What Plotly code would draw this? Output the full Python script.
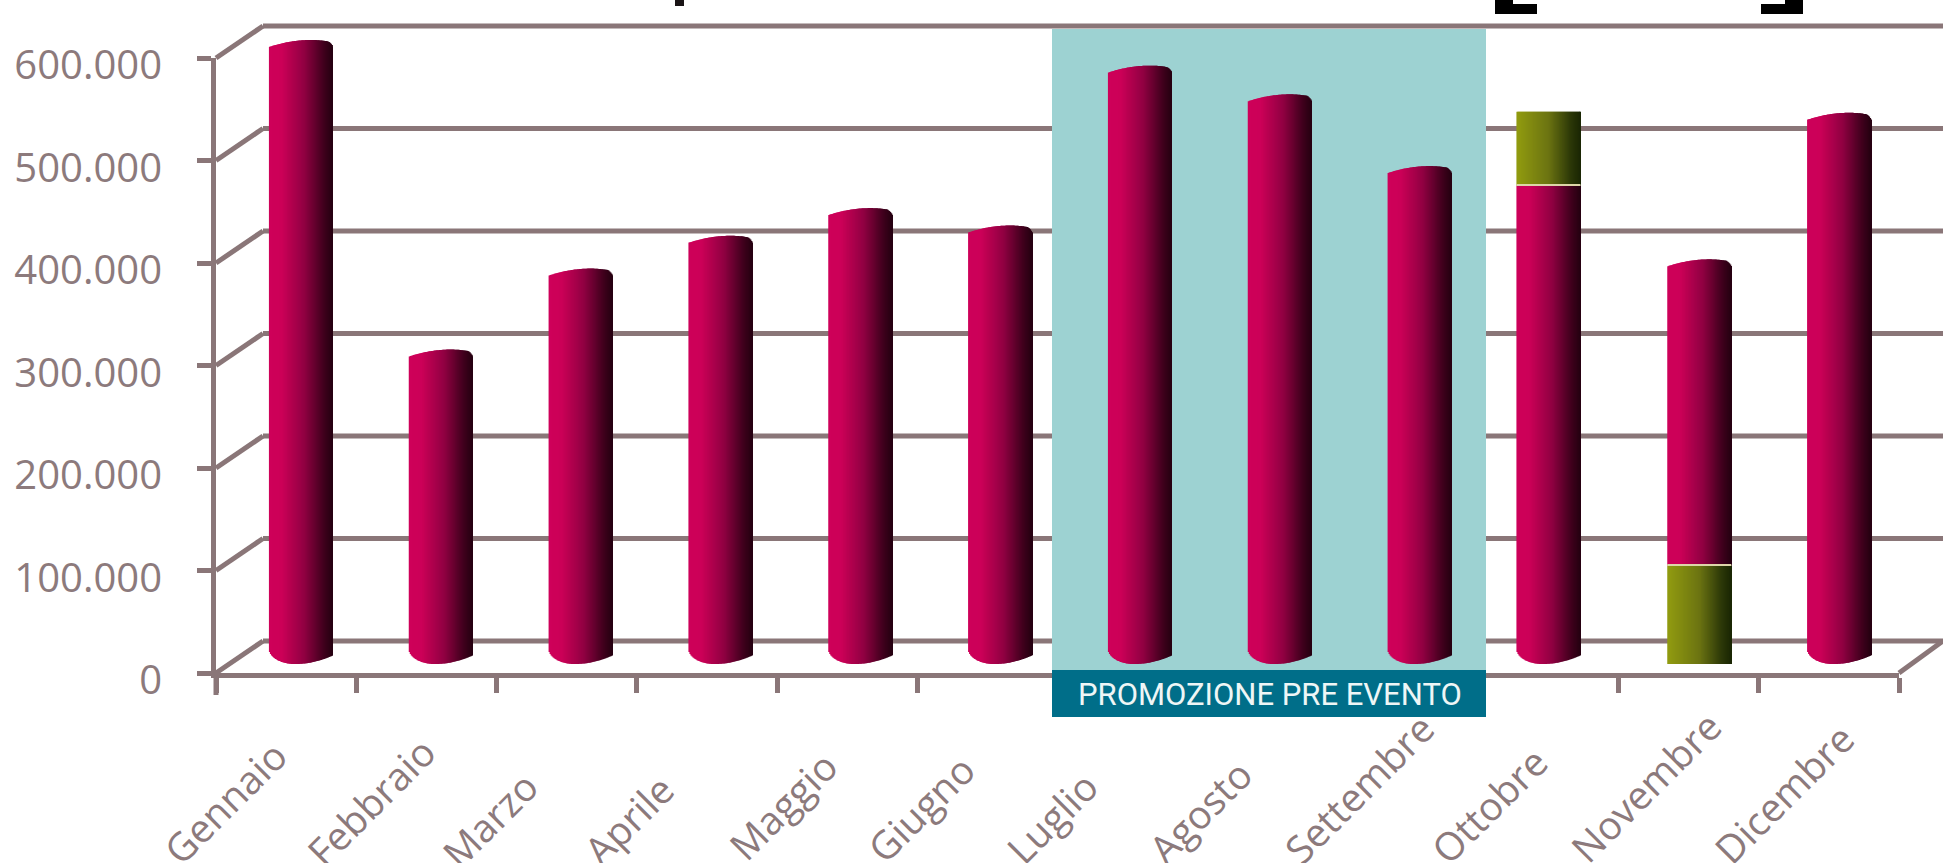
import plotly.graph_objects as go

# ---- data ----
months = ["Gennaio", "Febbraio", "Marzo", "Aprile", "Maggio", "Giugno",
          "Luglio", "Agosto", "Settembre", "Ottobre", "Novembre", "Dicembre"]
crimson_bottom = [0, 0, 0, 0, 0, 0, 0, 0, 0, 0, 87000, 0]
crimson_top = [600000, 298000, 377000, 409000, 436000, 419000,
               575000, 547000, 477000, 458000, 386000, 529000]
olive_months = ["Ottobre", "Novembre"]
olive_bottom = [458000, 0]
olive_top = [530000, 87000]
y_ticks = [0, 100000, 200000, 300000, 400000, 500000, 600000]
y_tick_labels = ["0", "100.000", "200.000", "300.000", "400.000", "500.000", "600.000"]
promo_label = "PROMOZIONE PRE EVENTO"

# ---- layout constants (pixels of the 1943x863 page) ----
W, H = 1943, 863
AX_L, AX_R, AX_B, AX_T = 216, 1899, 673, 58
DX, DY = 47, 32                 # depth of the pseudo-3D box
BAR_L, BAR_SPAN = 231, 1678     # horizontal extent of the plane the bars stand on
BAR_DY = 18
PX_PER_UNIT = (AX_B - AX_T) / 600000
AXIS_COLOR = "#8a7678"
TEXT_COLOR = "#8c7a7c"
FONT = "Open Sans"
N = 64
BAR_W = 64 / (BAR_SPAN / 12)
Y2_LOW = -16000
OCT_NUDGE = -11 / (BAR_SPAN / 12)   # the October tube sits left of its slot


def px_x(v):
    return v / W


def px_y(v):
    return 1 - v / H


def lerp_hex(stops, t):
    for (t0, c0), (t1, c1) in zip(stops, stops[1:]):
        if t <= t1:
            f = (t - t0) / (t1 - t0)
            rgb = [round(c0[i] + (c1[i] - c0[i]) * f) for i in range(3)]
            return f"rgb({rgb[0]},{rgb[1]},{rgb[2]})"
    return f"rgb{stops[-1][1]}"


CRIMSON = [(0, (206, 0, 90)), (0.2, (204, 0, 88)), (0.55, (145, 0, 66)), (0.85, (66, 0, 30)), (1, (36, 0, 16))]
OLIVE = [(0, (146, 156, 16)), (0.5, (108, 116, 18)), (0.85, (44, 56, 8)), (1, (26, 38, 4))]


def top_drop(t):
    """Pixels the top edge of the tube falls below its peak."""
    if t < 0.65:
        return 7 * ((0.65 - t) / 0.65) ** 2
    return 2.5 * ((t - 0.65) / 0.35) ** 2 + 5 * (max(0, t - 0.9) / 0.1) ** 2


def bottom_sag(t):
    """Pixels the bottom edge of the tube hangs below the floor plane."""
    if t < 0.4:
        return -6 + 15 * (1 - ((0.4 - t) / 0.4) ** 2) ** 0.5
    return 9 * (1 - ((t - 0.4) / 0.6) ** 2)


def nudged(names, value):
    return [value + (OCT_NUDGE if m == "Ottobre" else 0) for m in names]


def strip_geometry(k, names):
    last = k == N - 1
    return dict(width=BAR_W / N * (1 if last else 2),
                offset=nudged(names, -BAR_W / 2 + k * BAR_W / N))


fig = go.Figure()

# invisible trace that gives the front axes their categories
fig.add_trace(go.Scatter(x=months, y=crimson_top, mode="none", xaxis="x", yaxis="y",
                         showlegend=False, hoverinfo="skip"))

for k in range(N):
    t = (k + 0.5) / N
    bases, heights = [], []
    for m, lo, hi in zip(months, crimson_bottom, crimson_top):
        b = lo if lo else -bottom_sag(t) / PX_PER_UNIT
        capped = m in olive_months and lo == 0
        h = hi if capped else hi - top_drop(t) / PX_PER_UNIT
        bases.append(b)
        heights.append(h - b)
    fig.add_trace(go.Bar(x=months, y=heights, base=bases, xaxis="x2", yaxis="y2",
                         marker=dict(color=lerp_hex(CRIMSON, t), line=dict(width=0)),
                         showlegend=False, hoverinfo="skip", **strip_geometry(k, months)))

for k in range(N):
    t = (k + 0.5) / N
    bases, heights = [], []
    for lo, hi in zip(olive_bottom, olive_top):
        b = lo if lo else -9 / PX_PER_UNIT
        bases.append(b)
        heights.append(hi - b)
    fig.add_trace(go.Bar(x=olive_months, y=heights, base=bases, xaxis="x2", yaxis="y2",
                         marker=dict(color=lerp_hex(OLIVE, t), line=dict(width=0)),
                         showlegend=False, hoverinfo="skip", **strip_geometry(k, olive_months)))

# pale seam where the two colours meet
seams = [lo if lo else hi for lo, hi in zip(olive_bottom, olive_top)]
fig.add_trace(go.Bar(x=olive_months, y=[1500, 1500], base=seams,
                     xaxis="x2", yaxis="y2", width=BAR_W,
                     offset=nudged(olive_months, -BAR_W / 2),
                     marker=dict(color="#ddd6a8", line=dict(width=0)),
                     showlegend=False, hoverinfo="skip"))

# ---- box drawn behind the data ----
shapes = []


def line(x0, y0, x1, y1, layer="below", w=5):
    shapes.append(dict(type="line", xref="paper", yref="paper", layer=layer,
                       x0=px_x(x0), y0=px_y(y0), x1=px_x(x1), y1=px_y(y1),
                       line=dict(color=AXIS_COLOR, width=w)))


for v in y_ticks:
    yy = AX_B - v * PX_PER_UNIT
    line(AX_L + DX, yy - DY, W, yy - DY)
    line(AX_L, yy, AX_L + DX, yy - DY)
line(AX_R, AX_B, W, AX_B - DY)

# promotion panel over the grid, under the bars
shapes.append(dict(type="rect", xref="paper", yref="paper", layer="below",
                   x0=px_x(1052), x1=px_x(1486), y0=px_y(670), y1=px_y(29),
                   fillcolor="#9dd2d2", line=dict(width=0)))
# band under the panel
shapes.append(dict(type="rect", xref="paper", yref="paper", layer="above",
                   x0=px_x(1052), x1=px_x(1486), y0=px_y(717), y1=px_y(670),
                   fillcolor="#006e89", line=dict(width=0)))
# longer first tick
line(AX_L, AX_B, AX_L, AX_B + 22, layer="above")

# feet of the heading cut off by the top edge of the picture
for x0, x1, y1 in [(675, 684, 6)]:
    shapes.append(dict(type="rect", xref="paper", yref="paper", layer="above",
                       x0=px_x(x0), x1=px_x(x1), y0=px_y(y1), y1=px_y(0),
                       fillcolor="#1a1416", line=dict(width=0)))
for x0, x1, xv0, xv1 in [(1495, 1537, 1495, 1513), (1761, 1803, 1785, 1803)]:
    shapes.append(dict(type="rect", xref="paper", yref="paper", layer="above",
                       x0=px_x(x0), x1=px_x(x1), y0=px_y(14), y1=px_y(4),
                       fillcolor="#000000", line=dict(width=0)))
    shapes.append(dict(type="rect", xref="paper", yref="paper", layer="above",
                       x0=px_x(xv0), x1=px_x(xv1), y0=px_y(14), y1=px_y(0),
                       fillcolor="#000000", line=dict(width=0)))

# ---- hand-placed month labels (centres, pixels) ----
label_x = [224, 370, 489, 628, 782, 920, 1051, 1199, 1358, 1488, 1645, 1783]
label_y = [802, 801, 819, 819, 805, 808, 817, 811, 788, 805, 786, 793]
annotations = [dict(text=m, xref="paper", yref="paper", x=px_x(x), y=px_y(y),
                    xanchor="center", yanchor="middle", textangle=-45, showarrow=False,
                    font=dict(family=FONT, size=39, color=TEXT_COLOR))
               for m, x, y in zip(months, label_x, label_y)]
annotations.append(dict(text=promo_label, xref="paper", yref="paper",
                        x=px_x(1270), y=px_y(694), xanchor="center", yanchor="middle",
                        showarrow=False,
                        font=dict(family="Roboto", size=31, color="#eef6f6")))

fig.update_layout(
    width=W, height=H, autosize=False,
    margin=dict(l=0, r=0, t=0, b=0, pad=0, autoexpand=False),
    paper_bgcolor="white", plot_bgcolor="rgba(0,0,0,0)",
    barmode="overlay", showlegend=False,
    shapes=shapes, annotations=annotations,
    xaxis=dict(domain=[px_x(AX_L), px_x(AX_R)], type="category", categoryorder="array",
               categoryarray=months, range=[-0.5, 11.5], tickson="boundaries",
               ticks="outside", ticklen=15, tickwidth=5, tickcolor=AXIS_COLOR,
               showline=True, linecolor=AXIS_COLOR, linewidth=5, showgrid=False,
               zeroline=False, showticklabels=False, anchor="y"),
    yaxis=dict(domain=[px_y(AX_B), px_y(AX_T)], range=[0, 600000],
               tickmode="array", tickvals=y_ticks, ticktext=y_tick_labels,
               ticks="outside", ticklen=14, tickwidth=5, tickcolor=AXIS_COLOR,
               showline=True, linecolor=AXIS_COLOR, linewidth=5, showgrid=False,
               zeroline=False, ticklabelstandoff=27, ticklabelshift=7,
               tickfont=dict(family=FONT, size=40, color=TEXT_COLOR), anchor="x"),
    xaxis2=dict(domain=[px_x(BAR_L), px_x(BAR_L + BAR_SPAN)], type="category",
                categoryorder="array", categoryarray=months, range=[-0.5, 11.5],
                visible=False, anchor="y2"),
    yaxis2=dict(domain=[px_y(AX_B - BAR_DY - Y2_LOW * PX_PER_UNIT), px_y(AX_T - BAR_DY)],
                range=[Y2_LOW, 600000], visible=False, anchor="x2"),
)

fig.write_html("out.html", config={"displayModeBar": False},
               post_script="document.body.style.margin='0';")
